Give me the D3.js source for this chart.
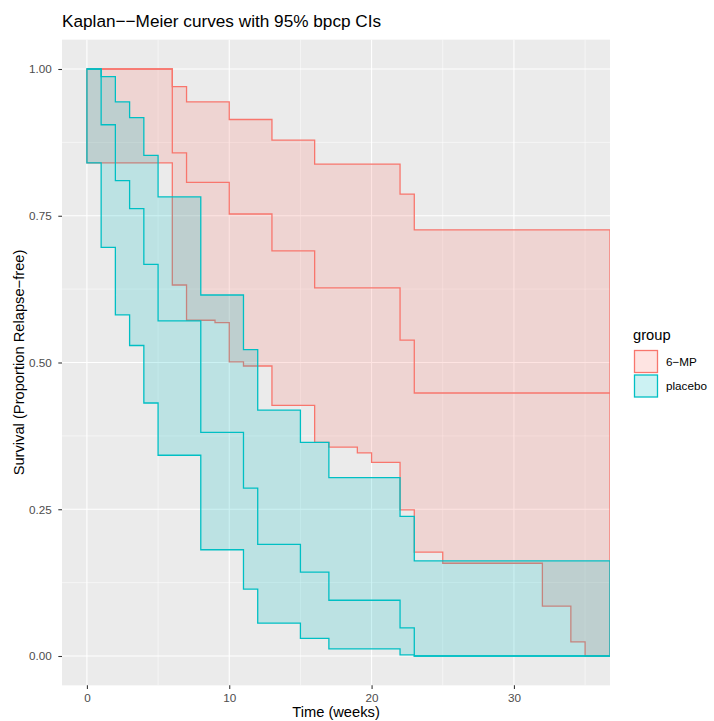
<!DOCTYPE html>
<html>
<head>
<meta charset="utf-8">
<script src="https://cdn.jsdelivr.net/npm/d3@7"></script>
<style>
    body { margin: 0; background: #ffffff; }
    text { font-family: "Liberation Sans", Arial, sans-serif; }
</style>
</head>
<body>
<div id="chart"></div>
<script>
// groups and colours (ggplot default hue palette)
const groups = ["6−MP", "placebo"];
const groupColors = ["#F8766D", "#00BFC4"];

// 6-MP: step times, bpcp lower / upper limits, KM estimate
const mpTime  = [0, 6, 7, 9, 10, 11, 13, 16, 17, 19, 20, 22, 23, 25, 32, 34, 35, 36.75];
const mpLower = [0.840, 0.632, 0.572, 0.568, 0.501, 0.494, 0.427, 0.364, 0.356, 0.346, 0.330, 0.249, 0.177, 0.158, 0.085, 0.024, 0, 0];
const mpUpper = [1.000, 0.970, 0.944, 0.944, 0.914, 0.914, 0.879, 0.838, 0.838, 0.838, 0.838, 0.787, 0.726, 0.726, 0.726, 0.726, 0.726, 0.726];
const mpKM    = [1.000, 0.857, 0.807, 0.807, 0.753, 0.753, 0.690, 0.627, 0.627, 0.627, 0.627, 0.538, 0.448, 0.448, 0.448, 0.448, 0.448, 0.448];

// placebo
const plTime  = [0, 1, 2, 3, 4, 5, 8, 11, 12, 15, 17, 22, 23, 36.75];
const plLower = [0.840, 0.696, 0.581, 0.529, 0.431, 0.342, 0.181, 0.114, 0.056, 0.030, 0.012, 0.002, 0, 0];
const plUpper = [1.000, 0.987, 0.944, 0.917, 0.853, 0.782, 0.615, 0.522, 0.419, 0.364, 0.304, 0.238, 0.162, 0.162];
const plKM    = [1.000, 0.905, 0.810, 0.762, 0.667, 0.571, 0.381, 0.286, 0.190, 0.143, 0.095, 0.048, 0, 0];

const xTicks = [0, 10, 20, 30];
const xMinor = [5, 15, 25, 35];
const yTicks = [0, 0.25, 0.5, 0.75, 1];
const yMinor = [0.125, 0.375, 0.625, 0.875];

document.addEventListener('DOMContentLoaded', function () {
    const W = 714, H = 721;
    const panel = {left: 62, top: 39.65, right: 610, bottom: 685.35};

    const svg = d3.select("#chart").append("svg")
        .attr("width", W)
        .attr("height", H);

    const x = d3.scaleLinear().domain([-1.75, 36.75]).range([panel.left, panel.right]);
    const y = d3.scaleLinear().domain([-0.05, 1.05]).range([panel.bottom, panel.top]);

    // panel background + grid
    svg.append("rect")
        .attr("x", panel.left).attr("y", panel.top)
        .attr("width", panel.right - panel.left)
        .attr("height", panel.bottom - panel.top)
        .attr("fill", "#EBEBEB");

    const grid = svg.append("g");
    grid.selectAll(".xminor").data(xMinor).enter().append("line")
        .attr("x1", d => x(d)).attr("x2", d => x(d))
        .attr("y1", panel.top).attr("y2", panel.bottom)
        .attr("stroke", "#fff").attr("stroke-width", 0.53);
    grid.selectAll(".yminor").data(yMinor).enter().append("line")
        .attr("y1", d => y(d)).attr("y2", d => y(d))
        .attr("x1", panel.left).attr("x2", panel.right)
        .attr("stroke", "#fff").attr("stroke-width", 0.53);
    grid.selectAll(".xmajor").data(xTicks).enter().append("line")
        .attr("x1", d => x(d)).attr("x2", d => x(d))
        .attr("y1", panel.top).attr("y2", panel.bottom)
        .attr("stroke", "#fff").attr("stroke-width", 1.07);
    grid.selectAll(".ymajor").data(yTicks).enter().append("line")
        .attr("y1", d => y(d)).attr("y2", d => y(d))
        .attr("x1", panel.left).attr("x2", panel.right)
        .attr("stroke", "#fff").attr("stroke-width", 1.07);

    svg.append("clipPath").attr("id", "clip")
        .append("rect")
        .attr("x", panel.left).attr("y", panel.top)
        .attr("width", panel.right - panel.left)
        .attr("height", panel.bottom - panel.top);

    const series = [
        {time: mpTime, lower: mpLower, upper: mpUpper, km: mpKM},
        {time: plTime, lower: plLower, upper: plUpper, km: plKM}
    ].map((s, gi) => ({
        color: groupColors[gi],
        values: s.time.map((t, i) => ({t: t, lo: s.lower[i], hi: s.upper[i], km: s.km[i]}))
    }));

    const area = d3.area()
        .x(d => x(d.t))
        .y0(d => y(d.lo))
        .y1(d => y(d.hi))
        .curve(d3.curveStepAfter);

    const kmLine = d3.line()
        .x(d => x(d.t))
        .y(d => y(d.km))
        .curve(d3.curveStepAfter);

    const plot = svg.append("g").attr("clip-path", "url(#clip)");

    series.forEach(function (s) {
        const g = plot.append("g");
        g.append("path")
            .datum(s.values)
            .attr("d", area)
            .attr("fill", s.color)
            .attr("fill-opacity", 0.2)
            .attr("stroke", s.color)
            .attr("stroke-width", 1.3);
        g.append("path")
            .datum(s.values)
            .attr("d", kmLine)
            .attr("fill", "none")
            .attr("stroke", s.color)
            .attr("stroke-width", 1.3);
    });

    // axes
    const xAxis = svg.append("g")
        .attr("transform", "translate(0," + panel.bottom + ")")
        .call(d3.axisBottom(x).tickValues(xTicks).tickSize(3.7).tickPadding(4.3));
    const yAxis = svg.append("g")
        .attr("transform", "translate(" + panel.left + ",0)")
        .call(d3.axisLeft(y).tickValues(yTicks).tickFormat(d3.format(".2f")).tickSize(3.7).tickPadding(6.5));

    [xAxis, yAxis].forEach(function (a) {
        a.select(".domain").remove();
        a.selectAll(".tick line").attr("stroke", "#333333").attr("stroke-width", 1.07);
        a.selectAll(".tick text")
            .attr("fill", "#4D4D4D")
            .style("font-size", "11.7px")
            .style("font-family", "'Liberation Sans', Arial, sans-serif");
    });

    // titles
    svg.append("text")
        .attr("x", panel.left)
        .attr("y", 27)
        .text("Kaplan−−Meier curves with 95% bpcp CIs")
        .style("font-size", "17.2px")
        .attr("fill", "#000");

    svg.append("text")
        .attr("x", (panel.left + panel.right) / 2)
        .attr("y", 717)
        .attr("text-anchor", "middle")
        .text("Time (weeks)")
        .style("font-size", "14.7px");

    svg.append("text")
        .attr("transform", "translate(23.5," + ((panel.top + panel.bottom) / 2) + ") rotate(-90)")
        .attr("text-anchor", "middle")
        .text("Survival (Proportion Relapse−free)")
        .style("font-size", "14.7px");

    addLegend(svg);

    function addLegend(svg) {
        const lg = svg.append("g").attr("transform", "translate(633,0)");
        lg.append("text")
            .attr("x", 0)
            .attr("y", 340)
            .text("group")
            .style("font-size", "14.7px");

        const items = lg.selectAll(".legend")
            .data(groups)
            .enter()
            .append("g")
            .attr("class", "legend")
            .attr("transform", (d, i) => "translate(0," + (350 + i * 24.5) + ")");

        items.append("rect")
            .attr("x", 1.5)
            .attr("y", 0.5)
            .attr("width", 23)
            .attr("height", 22)
            .attr("fill", (d, i) => groupColors[i])
            .attr("fill-opacity", 0.2)
            .attr("stroke", (d, i) => groupColors[i])
            .attr("stroke-width", 1.3);

        items.append("text")
            .attr("x", 33)
            .attr("y", 15.5)
            .text(d => d)
            .style("font-size", "11.7px");
    }
});
</script>
</body>
</html>
